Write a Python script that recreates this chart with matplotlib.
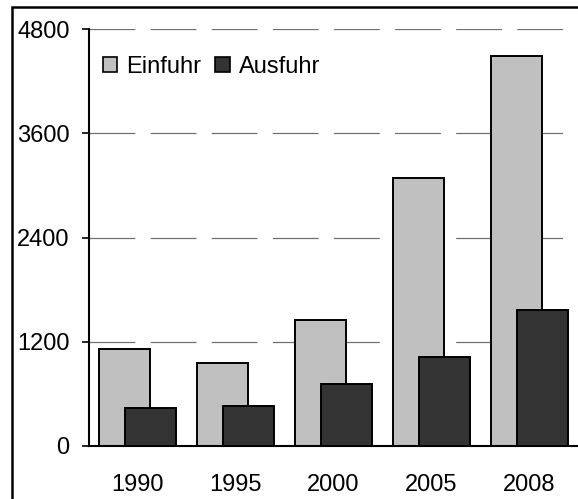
import matplotlib
matplotlib.use("Agg")
import matplotlib.pyplot as plt
from matplotlib.patches import Rectangle
import numpy as np

plt.rcParams['font.family'] = ['Liberation Sans', 'DejaVu Sans']
plt.rcParams['lines.scale_dashes'] = False

years = ["1990", "1995", "2000", "2005", "2008"]
einfuhr = [1112, 955, 1450, 3080, 4490]
ausfuhr = [441, 464, 710, 1020, 1560]
yticks = [0, 1200, 2400, 3600, 4800]

W, H = 578, 499
fig = plt.figure(figsize=(W / 100, H / 100), dpi=100)
ax = fig.add_axes([89 / W, (H - 446) / H, 1 - 89 / W, (446 - 29) / H])

x = np.arange(len(years)) + 0.5
bw = 0.52
ax.bar(x - 0.133, einfuhr, width=bw, color="#c0c0c0", edgecolor="black",
       linewidth=1.4, label="Einfuhr", zorder=2)
ax.bar(x + 0.133, ausfuhr, width=bw, color="#333333", edgecolor="black",
       linewidth=1.4, label="Ausfuhr", zorder=3)

ax.set_xlim(0, len(years))
ax.set_ylim(0, 4800)
ax.set_yticks(yticks)
ax.set_yticklabels([str(t) for t in yticks])
ax.set_xticks(x)
ax.set_xticklabels(years)

ax.yaxis.grid(True, color="#707070", linewidth=0.9, linestyle=(0, (33, 11)), zorder=0)
ax.set_axisbelow(True)

for s in ["top", "right"]:
    ax.spines[s].set_visible(False)
for s in ["left", "bottom"]:
    ax.spines[s].set_linewidth(1.5)
    ax.spines[s].set_color("black")

fs = 17
ax.tick_params(axis="y", length=5, width=1.2, pad=9, labelsize=fs)
ax.tick_params(axis="x", length=0, pad=20, labelsize=fs)

leg = ax.legend(loc="upper left", bbox_to_anchor=(0.028, 0.935), ncol=2,
                frameon=False, fontsize=fs, handlelength=0.6, handleheight=0.6,
                handletextpad=0.4, columnspacing=0.6, borderpad=0, borderaxespad=0)
for h in leg.legend_handles:
    h.set_linewidth(1.2)

fig.patches.append(Rectangle((12 / W, -0.1), 1.2, 1.1 - 7 / H, transform=fig.transFigure,
                             fill=False, edgecolor="black", linewidth=1.8, zorder=10))

fig.savefig("out.png", dpi=100)
